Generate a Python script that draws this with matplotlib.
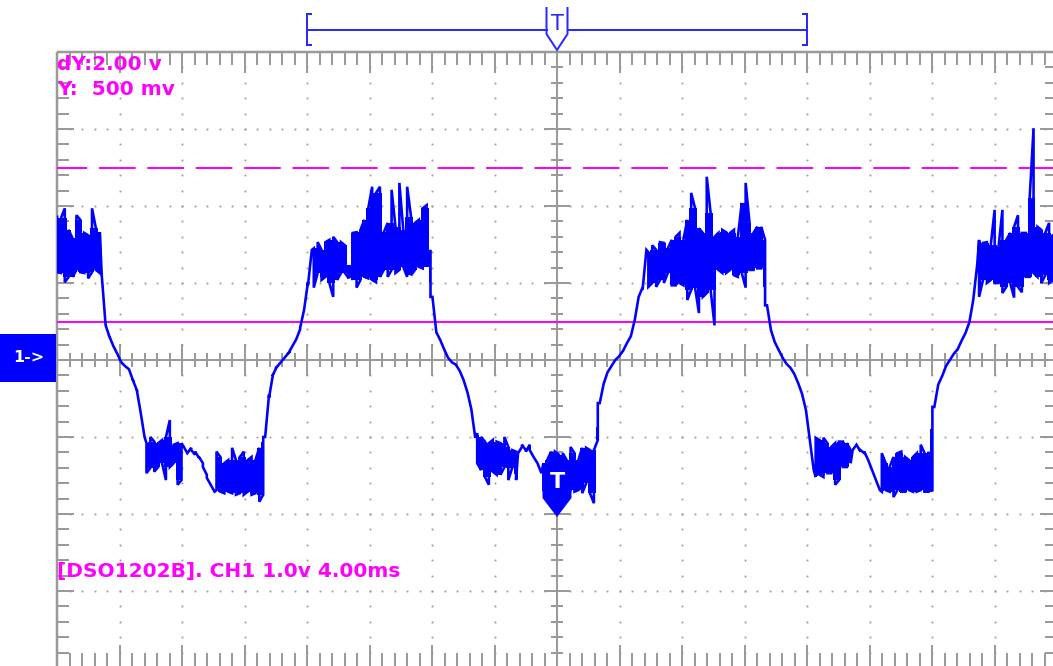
import numpy as np
import matplotlib
matplotlib.use("Agg")
import matplotlib.pyplot as plt
import matplotlib.transforms as mtransforms
from matplotlib.collections import LineCollection
from matplotlib.patches import Polygon, Rectangle

plt.rcParams["lines.scale_dashes"] = False

# ---- scope settings -------------------------------------------------------
TIME_DIV_MS = 4.0          # horizontal scale (ms / div)
VOLT_DIV = 1.0             # CH1 vertical scale (V / div)
H_DIVS = 16
V_DIVS = 8
CURSOR_Y = 0.5             # Y cursor (V)
CURSOR_DY = 2.0            # second cursor offset (V)
TRIG_LEVEL = -2.0          # trigger level marker (V)
WINDOW_MS = (-16.0, 16.0)  # memory window bracket
SAMPLE_MS = 0.249          # display sample spacing
MODEL = "DSO1202B"

# ---- CH1 trace: upper / lower extent of each display sample (V) -----------
trace_hi = [
    1.86, 1.84, 1.97, 1.69, 1.58, 1.88, 1.82, 1.65, 1.62, 1.97, 1.71, 1.66,
    1.10, 0.45, 0.30, 0.18, 0.08, -0.03, -0.08, -0.12, -0.26, -0.39, -0.68,
    -1.08, -1.00, -1.06, -1.08, -1.04, -1.00, -0.78, -1.10, -1.08, -1.08,
    -1.12, -1.14, -1.17, -1.19, -1.26, -1.39, -1.53, -1.62,
    -1.19, -1.26, -1.34, -1.30, -1.14, -1.30, -1.26, -1.19, -1.30, -1.26, -1.30, -1.14,
    -1.00, -0.45, -0.19, -0.09, -0.03, 0.03, 0.09, 0.18, 0.27, 0.40, 0.65, 1.01,
    1.43, 1.45, 1.53, 1.43, 1.53, 1.56, 1.60, 1.53, 1.53, 1.49, 1.23,
    1.65, 1.66, 1.69, 1.82, 1.97, 2.25, 2.17, 2.25, 1.66, 1.78, 2.21, 1.73, 2.30,
    1.69, 2.25, 1.86, 1.78, 1.82, 1.97, 2.01,
    1.43, 0.82, 0.36, 0.26, 0.14, 0.03, -0.03, -0.06, -0.14, -0.26, -0.42, -0.64,
    -0.95, -1.00, -1.06, -1.08, -1.04, -1.06, -1.08, -1.00, -1.13, -1.17, -1.19,
    -1.13, -1.10, -1.10, -1.17, -1.26, -1.34,
    -1.34, -1.30, -1.19, -1.19, -1.23, -1.21, -1.30, -1.13, -1.21, -1.30, -1.14,
    -1.14, -1.17, -1.17,
    -0.56, -0.31, -0.16, -0.08, 0.00, 0.05, 0.12, 0.22, 0.31, 0.52, 0.82, 0.94,
    1.43, 1.40, 1.49, 1.43, 1.53, 1.52, 1.45, 1.56, 1.60, 1.65, 1.56, 1.82, 2.17,
    1.97, 1.71, 1.65, 2.38, 1.91, 1.60, 1.65, 1.69, 1.66, 1.65, 1.69, 1.60, 2.04,
    2.30, 1.78, 1.65, 1.73, 1.73,
    1.56, 0.71, 0.39, 0.23, 0.13, 0.03, -0.05, -0.10, -0.18, -0.30, -0.44, -0.65,
    -1.04, -1.01, -1.04, -1.01, -1.08, -1.13, -1.08, -1.06, -1.06, -1.08, -1.17,
    -1.10, -1.10, -1.17, -1.19, -1.30, -1.43, -1.56,
    -1.21, -1.34, -1.39, -1.26, -1.21, -1.19, -1.26, -1.30, -1.26, -1.21, -1.10,
    -1.21, -1.19,
    -0.61, -0.32, -0.21, -0.08, 0.00, 0.08, 0.14, 0.25, 0.35, 0.49, 0.78, 1.23,
    1.56, 1.52, 1.53, 1.49, 1.95, 1.47, 1.95, 1.56, 1.65, 1.73, 1.88, 1.65, 1.65,
    2.10, 3.01, 1.73, 1.69, 1.65, 1.78, 1.62,
]
trace_lo = [
    1.14, 1.13, 1.01, 1.08, 1.08, 1.17, 1.14, 1.13, 1.06, 1.14, 1.17, 1.13,
    0.45, 0.30, 0.18, 0.08, -0.03, -0.08, -0.12, -0.26, -0.39, -0.68, -1.00,
    -1.47, -1.40, -1.45, -1.39, -1.34, -1.56, -1.39, -1.34, -1.62, -1.56,
    -1.21, -1.21, -1.23, -1.27, -1.34, -1.49, -1.62, -1.71,
    -1.69, -1.71, -1.73, -1.71, -1.73, -1.75, -1.73, -1.75, -1.71, -1.75, -1.73, -1.84,
    -1.75, -1.00, -0.49, -0.19, -0.09, -0.03, 0.03, 0.09, 0.18, 0.27, 0.42, 0.65,
    0.97, 0.94, 1.13, 1.04, 1.08, 1.00, 0.82, 1.04, 1.13, 1.13, 1.06,
    1.04, 0.94, 1.04, 1.08, 1.06, 1.04, 1.01, 1.08, 1.17, 1.08, 1.17, 1.13, 1.17,
    1.21, 1.08, 1.10, 1.17, 1.21, 1.19, 1.21,
    0.82, 0.36, 0.26, 0.14, 0.03, -0.03, -0.06, -0.14, -0.26, -0.42, -0.64, -1.01,
    -1.34, -1.43, -1.52, -1.62, -1.45, -1.49, -1.49, -1.39, -1.56, -1.40, -1.56,
    -1.21, -1.17, -1.19, -1.26, -1.34, -1.47,
    -1.69, -1.75, -1.75, -1.78, -1.75, -1.73, -1.69, -1.69, -1.71, -1.69, -1.73,
    -1.60, -1.73, -1.86,
    -1.04, -0.56, -0.31, -0.16, -0.08, 0.00, 0.05, 0.12, 0.22, 0.31, 0.52, 0.82,
    0.91, 0.95, 1.00, 0.95, 1.04, 1.00, 1.13, 0.97, 0.97, 1.00, 0.97, 0.78, 0.91,
    0.94, 0.61, 0.82, 0.87, 0.91, 0.45, 1.17, 1.13, 1.13, 1.17, 1.10, 1.08, 1.13,
    0.94, 1.17, 1.17, 1.19, 1.19,
    0.71, 0.39, 0.23, 0.13, 0.03, -0.05, -0.10, -0.18, -0.30, -0.44, -0.65, -1.04,
    -1.43, -1.52, -1.49, -1.52, -1.47, -1.47, -1.62, -1.56, -1.39, -1.39, -1.34,
    -1.17, -1.19, -1.21, -1.30, -1.43, -1.56, -1.69,
    -1.71, -1.69, -1.71, -1.78, -1.69, -1.71, -1.71, -1.69, -1.71, -1.71, -1.69,
    -1.71, -1.71,
    -1.71, -0.61, -0.32, -0.21, -0.08, 0.00, 0.08, 0.14, 0.25, 0.35, 0.49, 0.78,
    0.82, 1.04, 1.00, 1.04, 1.00, 1.00, 0.87, 0.95, 1.00, 0.81, 0.95, 0.88, 1.08,
    1.08, 1.13, 1.08, 1.00, 1.10, 1.00, 1.04,
]

# ---- colours ---------------------------------------------------------------
BLUE = "#0000ff"
MAGENTA = "#ff00ff"
GRAY = "#9a9a9a"

W, H, DPI = 1053, 666, 100
fig = plt.figure(figsize=(W / DPI, H / DPI), dpi=DPI)
fig.patch.set_facecolor("white")

# screen area: 1000 x 616 px, the right/bottom edges run just past the image
AX_L, AX_T, AX_W, AX_H = 57, 52, 1000, 616
ax = fig.add_axes([AX_L / W, (H - AX_T - AX_H) / H, AX_W / W, AX_H / H])
t_half = TIME_DIV_MS * H_DIVS / 2
v_half = VOLT_DIV * V_DIVS / 2
ax.set_xlim(-t_half, t_half)
ax.set_ylim(-v_half, v_half)
ax.set_axis_off()

ms_px = 2 * t_half / AX_W     # ms per pixel
v_px = 2 * v_half / AX_H      # volts per pixel
PT = 72 / DPI                 # points per pixel

# ---- graticule -------------------------------------------------------------
minor_t = np.arange(-t_half, t_half + 1e-9, TIME_DIV_MS / 5)
major_t = np.arange(-t_half, t_half + 1e-9, TIME_DIV_MS)
minor_v = np.arange(-v_half, v_half + 1e-9, VOLT_DIV / 5)
major_v = np.arange(-v_half, v_half + 1e-9, VOLT_DIV)

segs = []
def vticks(ts, y0, up_px, down_px):
    for t in ts:
        segs.append([(t, y0 - down_px * v_px), (t, y0 + up_px * v_px)])
def hticks(vs, x0, left_px, right_px):
    for v in vs:
        segs.append([(x0 - left_px * ms_px, v), (x0 + right_px * ms_px, v)])

vticks(minor_t, v_half, 0, 13)
vticks(major_t, v_half, 0, 21)
vticks(minor_t, -v_half, 15, 0)
vticks(major_t, -v_half, 23, 0)
hticks(minor_v, -t_half, 0, 12)
hticks(major_v, -t_half, 0, 17)
hticks(minor_v, t_half, 12, 0)
hticks(major_v, t_half, 17, 0)
vticks(minor_t, 0, 7, 7)
vticks(major_t, 0, 16, 16)
hticks(minor_v, 0, 6, 6)
hticks(major_v, 0, 13, 13)
ax.add_collection(LineCollection(segs, colors=GRAY, linewidths=2 * PT,
                                 zorder=1, clip_on=False))

# centre cross and left/top frame
ax.plot([-t_half, t_half], [0, 0], color=GRAY, lw=2 * PT, zorder=1)
ax.plot([0, 0], [-v_half, v_half], color=GRAY, lw=2 * PT, zorder=1)
ax.plot([-t_half, -t_half], [-v_half, v_half], color=GRAY, lw=2.5 * PT,
        zorder=1, clip_on=False, solid_capstyle="butt")
ax.plot([-t_half, t_half], [v_half, v_half], color=GRAY, lw=2.5 * PT,
        zorder=1, clip_on=False, solid_capstyle="butt")

# dotted division lines
dot_x, dot_y = [], []
for t in major_t[1:-1]:
    if abs(t) < 1e-9:
        continue
    dot_x += [t] * len(minor_v)
    dot_y += list(minor_v)
for v in major_v[1:-1]:
    if abs(v) < 1e-9:
        continue
    dot_x += list(minor_t)
    dot_y += [v] * len(minor_t)
ax.plot(dot_x, dot_y, ls="none", marker="s", ms=1.8 * PT, mew=0,
        color=GRAY, zorder=1)

# ---- cursors ---------------------------------------------------------------
ax.axhline(CURSOR_Y, color=MAGENTA, lw=2 * PT, zorder=2)
ax.axhline(CURSOR_Y + CURSOR_DY, color=MAGENTA, lw=2 * PT, zorder=2,
           linestyle=(6.5 * PT, (36.7 * PT, 11.7 * PT)))

# ---- CH1 trace -------------------------------------------------------------
hi = np.asarray(trace_hi)
lo = np.asarray(trace_lo)
n = len(hi)
t_ms = -t_half + SAMPLE_MS * np.arange(n)
half = SAMPLE_MS / 2

# samples where the beam simply moves on (edges, slow slopes) vs. noisy spread
line_like = np.zeros(n, dtype=bool)
for i in range(n):
    if hi[i] - lo[i] < 0.15:
        line_like[i] = True
    elif i > 0 and (abs(hi[i] - lo[i - 1]) < 0.05 or abs(lo[i] - hi[i - 1]) < 0.05):
        line_like[i] = True

# dense core of the noise band: isolated spikes left to the line below
hi_n = np.where(line_like, np.nan, hi)
lo_n = np.where(line_like, np.nan, lo)
core_hi = np.full(n, np.nan)
core_lo = np.full(n, np.nan)
for i in range(n):
    if line_like[i]:
        continue
    win = slice(max(0, i - 1), i + 2)
    top = min(np.nanmedian(hi_n[win]), hi[i])
    bot = max(np.nanmedian(lo_n[win]), lo[i])
    if bot <= top:
        core_hi[i], core_lo[i] = top, bot
ax.fill_between(t_ms, core_lo, core_hi, step="mid", color=BLUE, lw=0,
                zorder=3)

xs, ys = [], []
prev = None
for i in range(n):
    if prev is None or abs(prev - hi[i]) <= abs(prev - lo[i]):
        pair = (hi[i], lo[i])
    else:
        pair = (lo[i], hi[i])
    if line_like[i]:
        xs += [t_ms[i] - half, t_ms[i] + half]
    else:
        xs += [t_ms[i], t_ms[i]]
    ys += list(pair)
    prev = pair[1]
ax.plot(xs, ys, color=BLUE, lw=2.6 * PT, zorder=3, solid_joinstyle="miter")

# ---- trigger level marker (pixel-sized, anchored at t=0, TRIG_LEVEL) -------
anchor = mtransforms.ScaledTranslation(0, TRIG_LEVEL, ax.transData)
trig = Polygon([(0, -3), (-14.5, 16), (-14.5, 51), (14.5, 51), (14.5, 16)],
               closed=True, transform=mtransforms.Affine2D() + anchor,
               facecolor=BLUE, edgecolor=BLUE, lw=0, zorder=4, clip_on=False)
ax.add_patch(trig)
ax.text(0, TRIG_LEVEL, "T", color="white", fontsize=16, fontweight="bold",
        family="DejaVu Sans", ha="center", va="center", zorder=5,
        transform=mtransforms.offset_copy(ax.transData, fig=fig, x=0, y=32,
                                          units="dots"))

# ---- channel 1 ground marker -------------------------------------------------
blend_fy = mtransforms.blended_transform_factory(fig.transFigure, ax.transData)
ax.add_patch(Rectangle((0, -22 * v_px), 56 / W, 48 * v_px, transform=blend_fy,
                       facecolor=BLUE, edgecolor="none", zorder=4, clip_on=False))
ax.text(28.5 / W, 2 * v_px, "1->", color="white", fontsize=11.5,
        fontweight="bold", family="DejaVu Sans", ha="center", va="center",
        transform=blend_fy, zorder=5, clip_on=False)

# ---- memory window bracket with trigger position -----------------------------
top_px = mtransforms.Affine2D().scale(1, -1).translate(0, H)
blend_xp = mtransforms.blended_transform_factory(ax.transData, top_px)
lw_b = 2 * PT
w0, w1 = WINDOW_MS
half_t = 10.5 * ms_px
serif = 4 * ms_px
bracket = [
    [(w0, 29.5), (-half_t, 29.5)],
    [(half_t, 29.5), (w1, 29.5)],
    [(w0 + serif, 14), (w0, 14), (w0, 45), (w0 + serif, 45)],
    [(w1 - serif, 14), (w1, 14), (w1, 45), (w1 - serif, 45)],
    [(-half_t, 8), (-half_t, 34), (0, 50), (half_t, 34), (half_t, 8)],
]
for seg in bracket:
    sx, sy = zip(*seg)
    ax.plot(sx, sy, color="#2a2aff", lw=lw_b, transform=blend_xp,
            clip_on=False, zorder=5, solid_joinstyle="miter")
ax.text(0, 24, "T", color="#2a2aff", fontsize=15,
        family=["Liberation Sans Narrow", "DejaVu Sans"], ha="center",
        va="center", transform=blend_xp, clip_on=False, zorder=5)

# ---- readouts ----------------------------------------------------------------
txt = dict(color=MAGENTA, fontsize=14.5, fontweight="bold", family="DejaVu Sans",
           ha="left", va="baseline", zorder=6)
fig.text(57 / W, 1 - 70 / H, f"dY:{CURSOR_DY:.2f} v", **txt)
fig.text(57 / W, 1 - 95 / H, f"Y:  {CURSOR_Y * 1000:.0f} mv", **txt)
fig.text(57 / W, 1 - 577 / H,
         f"[{MODEL}]. CH1 {VOLT_DIV:.1f}v {TIME_DIV_MS:.2f}ms", **txt)

fig.savefig("out.png", dpi=DPI, facecolor="white")
